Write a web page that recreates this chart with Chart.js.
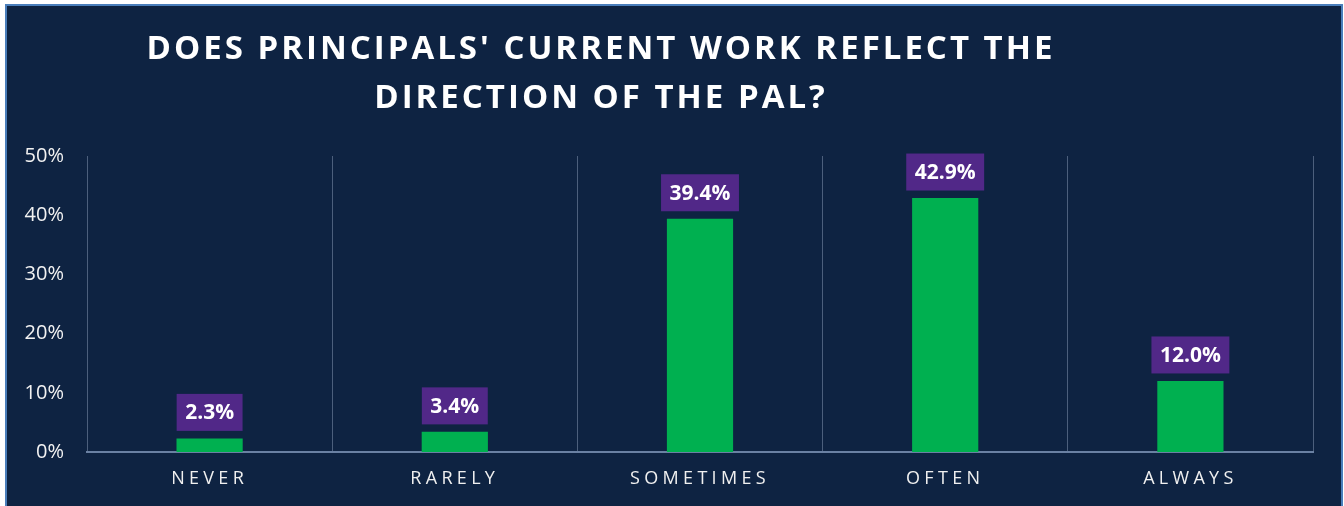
<!DOCTYPE html>
<html>
<head>
<meta charset="utf-8">
<script src="https://cdn.jsdelivr.net/npm/chart.js@4/dist/chart.umd.min.js"></script>
<style>
  html, body { margin: 0; padding: 0; background: #ffffff; }
  canvas { display: block; }
</style>
</head>
<body>
<canvas id="c" width="1344" height="506"></canvas>
<script>
// ---- data ----
const categories = ['NEVER', 'RARELY', 'SOMETIMES', 'OFTEN', 'ALWAYS'];
const values = [2.3, 3.4, 39.4, 42.9, 12.0];
const yMin = 0;
const yMax = 50;
const yStep = 10;
const titleLines = ["DOES PRINCIPALS' CURRENT WORK REFLECT THE", "DIRECTION OF THE PAL?"];

// ---- style ----
const NAVY = '#0E2342';
const FRAME = '#4A7EBB';
const GREEN = '#00B050';
const PURPLE = '#512888';
const FONT = '"Open Sans", "DejaVu Sans", sans-serif';

const backgroundPlugin = {
  id: 'panel',
  beforeDraw(chart) {
    const ctx = chart.ctx;
    ctx.save();
    ctx.fillStyle = '#ffffff';
    ctx.fillRect(0, 0, chart.width, chart.height);
    ctx.fillStyle = NAVY;
    ctx.fillRect(6, 5, 1336, chart.height);
    ctx.strokeStyle = FRAME;
    ctx.lineWidth = 2;
    ctx.strokeRect(6, 5, 1336, chart.height + 10);
    ctx.restore();
  }
};

const titlePlugin = {
  id: 'customTitle',
  afterDraw(chart) {
    const ctx = chart.ctx;
    ctx.save();
    ctx.fillStyle = '#ffffff';
    ctx.font = 'bold 33px ' + FONT;
    ctx.letterSpacing = '3px';
    ctx.textAlign = 'center';
    ctx.textBaseline = 'alphabetic';
    const cx = 601;
    ctx.fillText(titleLines[0], cx, 59);
    ctx.fillText(titleLines[1], cx, 108);
    ctx.restore();
  }
};

const labelPlugin = {
  id: 'valueBoxes',
  afterDatasetsDraw(chart) {
    const ctx = chart.ctx;
    const meta = chart.getDatasetMeta(0);
    ctx.save();
    ctx.font = 'bold 21px ' + FONT;
    ctx.textAlign = 'center';
    ctx.textBaseline = 'middle';
    meta.data.forEach((bar, i) => {
      const txt = values[i].toFixed(1) + '%';
      const w = ctx.measureText(txt).width + 17;
      const h = 37;
      const bottom = bar.y - 7.5;
      ctx.fillStyle = PURPLE;
      ctx.fillRect(bar.x - w / 2, bottom - h, w, h);
      ctx.fillStyle = '#ffffff';
      ctx.fillText(txt, bar.x, bottom - h / 2 + 1);
    });
    ctx.restore();
  }
};

new Chart(document.getElementById('c'), {
  type: 'bar',
  data: {
    labels: categories,
    datasets: [{
      data: values,
      backgroundColor: GREEN,
      borderWidth: 0,
      barPercentage: 0.27,
      categoryPercentage: 1.0
    }]
  },
  options: {
    responsive: false,
    animation: false,
    devicePixelRatio: 1,
    layout: { padding: { left: 0, top: 156, right: 31, bottom: 0 } },
    plugins: {
      legend: { display: false },
      title: { display: false },
      tooltip: { enabled: false }
    },
    scales: {
      x: {
        grid: { display: true, offset: true, color: '#4C5F7C', lineWidth: 1, drawTicks: false },
        border: { display: true, color: '#6A81A3', width: 2 },
        ticks: {
          color: '#F0F0F0',
          font: { family: FONT, size: 18 },
          padding: 16,
          maxRotation: 0
        },
        afterFit(scale) { scale.height = 54; },
        afterUpdate(scale) {
          if (!scale._spaced) {
            const orig = scale.drawLabels.bind(scale);
            scale.drawLabels = function (ca) {
              const ctx = this.ctx;
              const prev = ctx.letterSpacing;
              ctx.letterSpacing = '4.3px';
              orig(ca);
              ctx.letterSpacing = prev;
            };
            scale._spaced = true;
          }
        }
      },
      y: {
        min: yMin,
        max: yMax,
        grid: { display: false, drawTicks: false },
        border: { display: false },
        ticks: {
          stepSize: yStep,
          color: '#F2F2F2',
          font: { family: FONT, size: 20 },
          padding: 23,
          callback: (v) => v + '%'
        },
        afterFit(scale) { scale.width = 87; }
      }
    }
  },
  plugins: [backgroundPlugin, titlePlugin, labelPlugin]
});
</script>
</body>
</html>
